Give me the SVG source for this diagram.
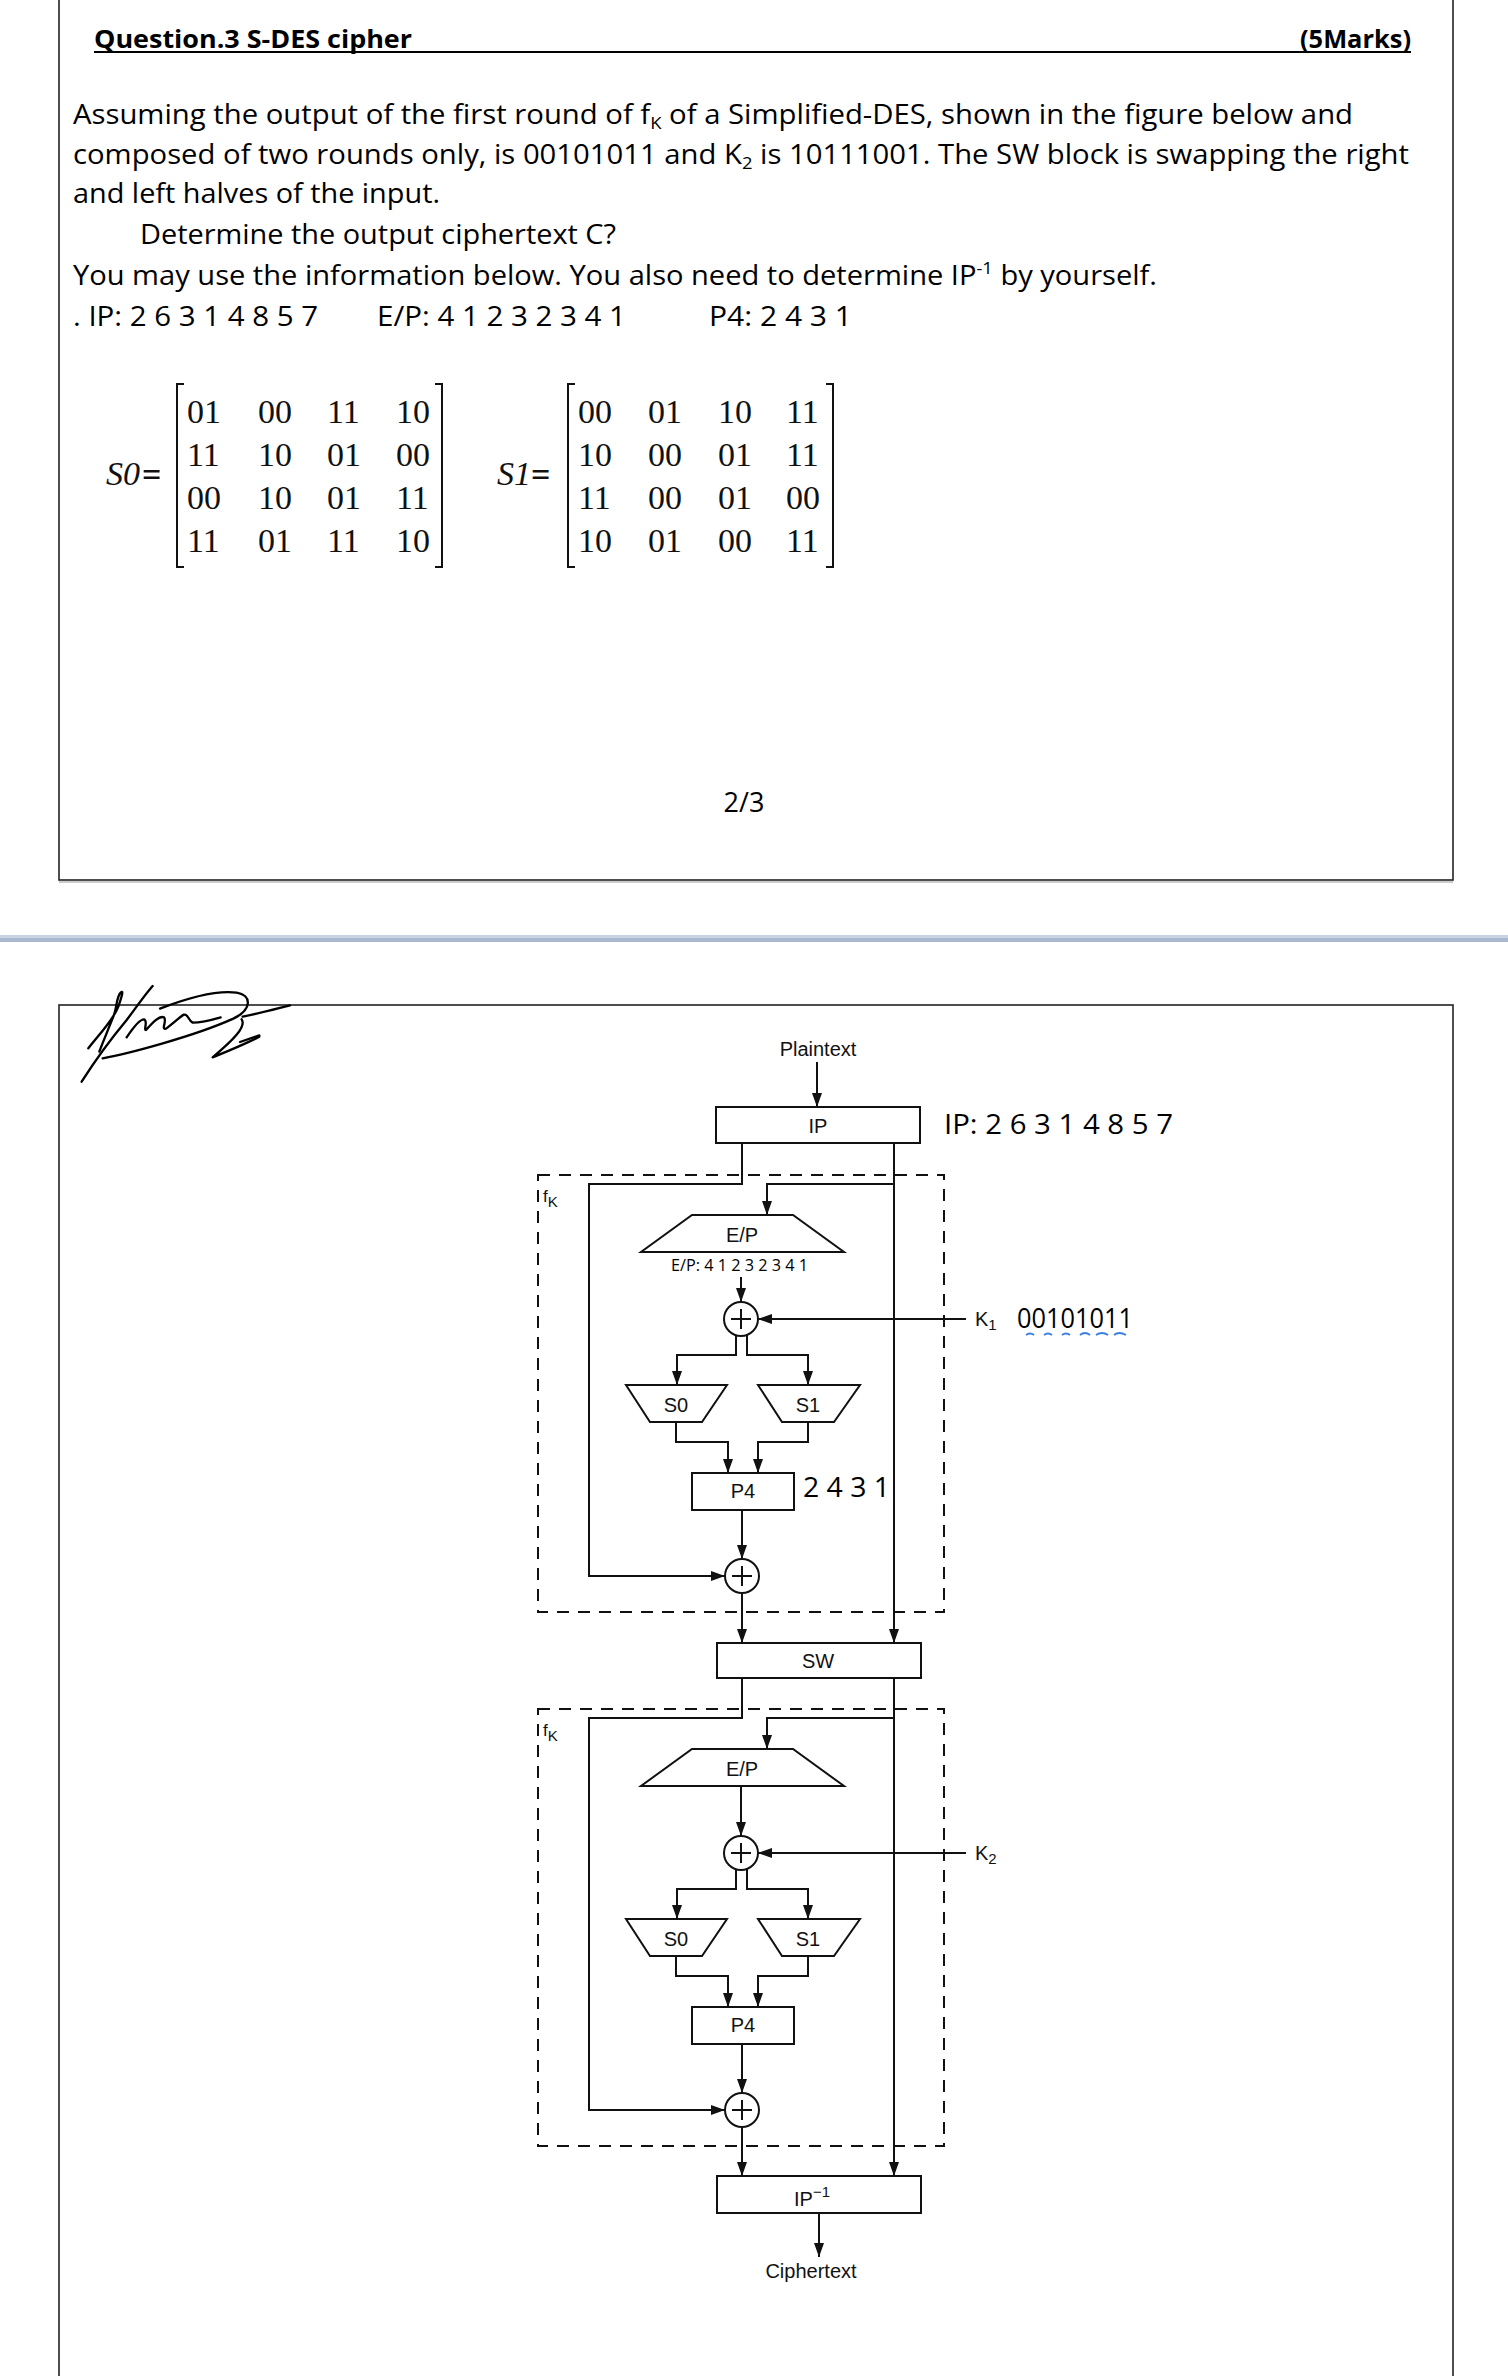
<svg xmlns="http://www.w3.org/2000/svg" width="1508" height="2376" viewBox="0 0 1508 2376">
<style>
  .q { font-family: "Open Sans", "Noto Sans", sans-serif; font-size: 27px; fill: #000; }
  .qs { font-family: "Open Sans", "Noto Sans", sans-serif; font-size: 16px; fill: #000; }
  .qb { font-family: "Open Sans", "Noto Sans", sans-serif; font-size: 25px; font-weight: bold; fill: #000; }
  .m { font-family: "Liberation Serif", serif; font-size: 34px; fill: #111; }
  .mi { font-family: "Liberation Serif", serif; font-size: 34px; font-style: italic; fill: #111; }
  .d { font-family: "Liberation Sans", Arial, sans-serif; font-size: 20px; fill: #111; }
  .ds { font-family: "Liberation Sans", Arial, sans-serif; font-size: 17px; fill: #111; }
  .ann { font-family: "Open Sans", "Noto Sans", sans-serif; font-size: 28px; fill: #000; }
  .box { fill: #fff; stroke: #111; stroke-width: 2; }
  .ln { fill: none; stroke: #111; stroke-width: 2; }
  .arr { fill: none; stroke: #111; stroke-width: 2; marker-end: url(#ah); }
  .dash { fill: none; stroke: #111; stroke-width: 2; stroke-dasharray: 12 9; }
  .frame { fill: none; stroke: #222; stroke-width: 1.6; }
</style>
<defs>
  <marker id="ah" markerUnits="userSpaceOnUse" markerWidth="14" markerHeight="10" refX="14" refY="5" orient="auto">
    <path d="M0,0 L14,5 L0,10 z" fill="#111"/>
  </marker>
  <g id="xor">
    <circle cx="0" cy="0" r="17" fill="#fff" stroke="#111" stroke-width="2"/>
    <path d="M-10,0 H10 M0,-10 V10" stroke="#111" stroke-width="2"/>
  </g>
</defs>
<rect width="1508" height="2376" fill="#fff"/>

<!-- Page 1 frame -->
<rect class="frame" x="59" y="-10" width="1394" height="890"/>
<line x1="59" y1="882" x2="1453" y2="882" stroke="#bbb" stroke-width="1.5"/>

<!-- Question text -->
<g id="question">
  <text class="qb" x="94" y="48" textLength="318" lengthAdjust="spacingAndGlyphs">Question.3 S-DES cipher</text>
  <text class="qb" x="1411" y="48" text-anchor="end" textLength="111" lengthAdjust="spacingAndGlyphs">(5Marks)</text>
  <line x1="94" y1="52" x2="1411" y2="52" stroke="#000" stroke-width="2"/>
  <text class="q" x="73" y="124" textLength="1280" lengthAdjust="spacingAndGlyphs">Assuming the output of the first round of f<tspan style="font-size:17px" dy="5">K</tspan><tspan dy="-5"> of a Simplified-DES, shown in the figure below and</tspan></text>
  <text class="q" x="73" y="164" textLength="1336" lengthAdjust="spacingAndGlyphs">composed of two rounds only, is 00101011 and K<tspan style="font-size:17px" dy="5">2</tspan><tspan dy="-5"> is 10111001. The SW block is swapping the right</tspan></text>
  <text class="q" x="73" y="203" textLength="367" lengthAdjust="spacingAndGlyphs">and left halves of the input.</text>
  <text class="q" x="140" y="244" textLength="476" lengthAdjust="spacingAndGlyphs">Determine the output ciphertext C?</text>
  <text class="q" x="73" y="285" textLength="1084" lengthAdjust="spacingAndGlyphs">You may use the information below. You also need to determine IP<tspan style="font-size:17px" dy="-11">-1</tspan><tspan dy="11"> by yourself.</tspan></text>
  <text class="q" x="73" y="326" textLength="245" lengthAdjust="spacingAndGlyphs">. IP: 2 6 3 1 4 8 5 7</text>
  <text class="q" x="377" y="326" textLength="249" lengthAdjust="spacingAndGlyphs">E/P: 4 1 2 3 2 3 4 1</text>
  <text class="q" x="709" y="326" textLength="143" lengthAdjust="spacingAndGlyphs">P4: 2 4 3 1</text>
</g>

<!-- S0 matrix -->
<g id="s0-matrix">
  <text class="mi" x="106" y="485">S0</text>
  <text class="m" x="142" y="486" style="font-weight:bold">=</text>
  <path class="ln" d="M184,384 H177 V567 H184 M435,384 H442 V567 H435" stroke-width="2.5"/>
  <text class="m" y="423"><tspan x="187">01</tspan><tspan x="258">00</tspan><tspan x="327">11</tspan><tspan x="396">10</tspan></text>
  <text class="m" y="466"><tspan x="187">11</tspan><tspan x="258">10</tspan><tspan x="327">01</tspan><tspan x="396">00</tspan></text>
  <text class="m" y="509"><tspan x="187">00</tspan><tspan x="258">10</tspan><tspan x="327">01</tspan><tspan x="396">11</tspan></text>
  <text class="m" y="552"><tspan x="187">11</tspan><tspan x="258">01</tspan><tspan x="327">11</tspan><tspan x="396">10</tspan></text>
</g>
<!-- S1 matrix -->
<g id="s1-matrix">
  <text class="mi" x="497" y="485">S1</text>
  <text class="m" x="531" y="486" style="font-weight:bold">=</text>
  <path class="ln" d="M575,384 H568 V567 H575 M826,384 H833 V567 H826" stroke-width="2.5"/>
  <text class="m" y="423"><tspan x="578">00</tspan><tspan x="648">01</tspan><tspan x="718">10</tspan><tspan x="786">11</tspan></text>
  <text class="m" y="466"><tspan x="578">10</tspan><tspan x="648">00</tspan><tspan x="718">01</tspan><tspan x="786">11</tspan></text>
  <text class="m" y="509"><tspan x="578">11</tspan><tspan x="648">00</tspan><tspan x="718">01</tspan><tspan x="786">00</tspan></text>
  <text class="m" y="552"><tspan x="578">10</tspan><tspan x="648">01</tspan><tspan x="718">00</tspan><tspan x="786">11</tspan></text>
</g>

<text class="q" x="744" y="812" text-anchor="middle">2/3</text>

<!-- separator -->
<rect x="0" y="935" width="1508" height="3" fill="#c9d3e3"/>
<rect x="0" y="938" width="1508" height="4" fill="#a9b7d1"/>

<!-- Page 2 frame -->
<rect class="frame" x="59" y="1005" width="1394" height="1400"/>

<!-- signature -->
<g id="signature" transform="translate(60,980) scale(0.3333)" fill="none" stroke="#000" stroke-width="7" stroke-linecap="round" stroke-linejoin="round">
  <path d="M85,205 C120,160 160,120 175,80 C185,50 192,28 182,38 C168,52 172,82 160,110 C140,160 125,195 118,215"/>
  <path d="M65,305 C100,250 150,180 200,120 C230,80 258,40 278,18"/>
  <path d="M200,172 C218,145 238,118 252,118 C265,122 250,150 258,150 C278,128 298,106 312,112 C322,122 302,150 318,146 C340,130 360,110 372,104 C384,100 385,122 398,128 C420,128 455,120 482,112"/>
  <path d="M128,235 C200,222 400,170 520,116 C578,88 575,45 530,38 C470,30 380,55 300,86"/>
  <path d="M545,118 C560,140 520,180 458,232 C500,215 560,190 598,170"/>
  <path d="M540,186 L598,166"/>
  <path d="M548,110 C600,100 650,86 690,76"/>
</g>

<!-- Diagram -->
<g id="connectors">
  <line class="arr" x1="817" y1="1062" x2="817" y2="1107"/>
  <!-- round 1 -->
  <path class="arr" d="M742,1143 V1184 H589 V1576 H725"/>
  <path class="arr" d="M894,1143 V1643"/>
  <path class="arr" d="M894,1184 H767 V1215"/>
  <line class="arr" x1="741" y1="1277" x2="741" y2="1302"/>
  <line class="arr" x1="966" y1="1319" x2="758" y2="1319"/>
  <path class="arr" d="M736,1335 V1355 H677 V1385"/>
  <path class="arr" d="M747,1335 V1355 H808 V1385"/>
  <path class="arr" d="M676,1422 V1442 H728 V1473"/>
  <path class="arr" d="M808,1422 V1442 H758 V1473"/>
  <line class="arr" x1="742" y1="1510" x2="742" y2="1559"/>
  <line class="arr" x1="742" y1="1593" x2="742" y2="1643"/>
  <!-- round 2 -->
  <path class="arr" d="M742,1678 V1718 H589 V2110 H725"/>
  <path class="arr" d="M894,1678 V2176"/>
  <path class="arr" d="M894,1718 H767 V1749"/>
  <line class="arr" x1="741" y1="1786" x2="741" y2="1836"/>
  <line class="arr" x1="966" y1="1853" x2="758" y2="1853"/>
  <path class="arr" d="M736,1869 V1889 H677 V1919"/>
  <path class="arr" d="M747,1869 V1889 H808 V1919"/>
  <path class="arr" d="M676,1956 V1976 H728 V2007"/>
  <path class="arr" d="M808,1956 V1976 H758 V2007"/>
  <line class="arr" x1="742" y1="2044" x2="742" y2="2093"/>
  <line class="arr" x1="742" y1="2127" x2="742" y2="2176"/>
  <line class="arr" x1="819" y1="2213" x2="819" y2="2257"/>
</g>

<g id="fk1">
  <rect class="dash" x="538" y="1175" width="406" height="437"/>
  <text class="ds" x="543" y="1202">f<tspan style="font-size:15px" dy="5">K</tspan></text>
</g>
<g id="fk2">
  <rect class="dash" x="538" y="1709" width="406" height="437"/>
  <text class="ds" x="543" y="1736">f<tspan style="font-size:15px" dy="5">K</tspan></text>
</g>

<text class="d" x="818" y="1056" text-anchor="middle">Plaintext</text>
<g id="ip">
  <rect class="box" x="716" y="1107" width="204" height="36"/>
  <text class="d" x="818" y="1133" text-anchor="middle">IP</text>
</g>
<text class="ann" x="944" y="1134" textLength="229" lengthAdjust="spacingAndGlyphs">IP: 2 6 3 1 4 8 5 7</text>

<g id="ep1">
  <polygon class="box" points="692,1215 793,1215 844,1252 641,1252"/>
  <text class="d" x="742" y="1242" text-anchor="middle">E/P</text>
  <text class="qs" x="671" y="1271" textLength="137" lengthAdjust="spacingAndGlyphs">E/P: 4 1 2 3 2 3 4 1</text>
</g>
<g id="xor1"><use href="#xor" x="741" y="1319"/></g>
<text class="d" x="975" y="1326">K<tspan style="font-size:15px" dy="4">1</tspan></text>
<text class="ann" x="1017" y="1328" textLength="116" lengthAdjust="spacingAndGlyphs">00101011</text>
<path d="M1026,1335 q4,-3 8,0 M1044,1335 q4,-3 8,0 M1062,1335 q4,-3 8,0 M1080,1335 q5,-4 10,0 M1096,1335 q6,-4 12,0 M1114,1335 q5,-4 12,0" fill="none" stroke="#3b7fe0" stroke-width="2"/>

<g id="s0a">
  <polygon class="box" points="626,1385 727,1385 702,1422 650,1422"/>
  <text class="d" x="676" y="1412" text-anchor="middle">S0</text>
</g>
<g id="s1a">
  <polygon class="box" points="758,1385 860,1385 834,1422 782,1422"/>
  <text class="d" x="808" y="1412" text-anchor="middle">S1</text>
</g>
<g id="p4a">
  <rect class="box" x="692" y="1473" width="102" height="37"/>
  <text class="d" x="743" y="1498" text-anchor="middle">P4</text>
</g>
<text class="ann" x="803" y="1497" textLength="87" lengthAdjust="spacingAndGlyphs">2 4 3 1</text>
<g id="xor2"><use href="#xor" x="742" y="1576"/></g>

<g id="sw">
  <rect class="box" x="717" y="1643" width="204" height="35"/>
  <text class="d" x="818" y="1668" text-anchor="middle">SW</text>
</g>

<g id="ep2">
  <polygon class="box" points="692,1749 793,1749 844,1786 641,1786"/>
  <text class="d" x="742" y="1776" text-anchor="middle">E/P</text>
</g>
<g id="xor3"><use href="#xor" x="741" y="1853"/></g>
<text class="d" x="975" y="1860">K<tspan style="font-size:15px" dy="4">2</tspan></text>
<g id="s0b">
  <polygon class="box" points="626,1919 727,1919 702,1956 650,1956"/>
  <text class="d" x="676" y="1946" text-anchor="middle">S0</text>
</g>
<g id="s1b">
  <polygon class="box" points="758,1919 860,1919 834,1956 782,1956"/>
  <text class="d" x="808" y="1946" text-anchor="middle">S1</text>
</g>
<g id="p4b">
  <rect class="box" x="692" y="2007" width="102" height="37"/>
  <text class="d" x="743" y="2032" text-anchor="middle">P4</text>
</g>
<g id="xor4"><use href="#xor" x="742" y="2110"/></g>

<g id="ipinv">
  <rect class="box" x="717" y="2176" width="204" height="37"/>
  <text class="d" x="812" y="2206" text-anchor="middle">IP<tspan style="font-size:15px" dy="-9">−1</tspan></text>
</g>
<text class="d" x="811" y="2278" text-anchor="middle">Ciphertext</text>
</svg>
